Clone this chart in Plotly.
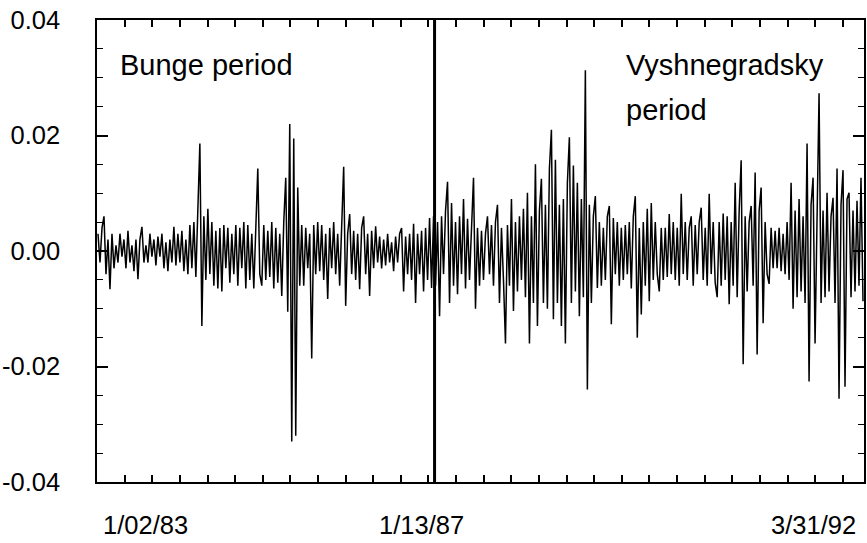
import plotly.graph_objects as go

# Daily returns, Bunge period (1/02/83 - 1/13/87)
bunge_returns = [
    0.003, -0.002, 0.004, 0.006, -0.004, 0.002, -0.0066, 0.003, -0.003, 0.001,
    -0.002, 0.003, -0.001, 0.002, -0.003, 0.0035, -0.002, 0.001, -0.0035, 0.002,
    -0.0049, 0.002, 0.0042, -0.002, 0.001, -0.002, 0.003, -0.001, 0.002, -0.0025,
    0.0025, -0.001, 0.003, -0.003, 0.0015, -0.0035, 0.002, -0.002, 0.0042, -0.0025,
    0.003, -0.002, 0.0035, -0.0035, 0.002, -0.004, 0.0045, -0.003, 0.005, -0.0045,
    0.0073, 0.0186, -0.013, 0.006, -0.005, 0.0073, -0.004, 0.005, -0.006, 0.0035,
    -0.0065, 0.004, -0.007, 0.0045, -0.003, 0.004, -0.0055, 0.003, -0.004, 0.0045,
    -0.006, 0.004, -0.003, 0.005, -0.0065, 0.0045, -0.005, 0.003, -0.0065, 0.005,
    0.0143, -0.004, -0.006, 0.0045, -0.005, 0.0035, -0.0045, 0.005, -0.0065, 0.004,
    -0.0055, 0.003, -0.0078, 0.005, 0.0127, -0.0105, 0.022, -0.033, 0.0195, -0.032,
    0.011, -0.006, 0.0045, -0.006, 0.004, -0.003, 0.003, -0.0186, 0.0045, -0.004,
    0.005, -0.0035, 0.0045, -0.005, 0.003, -0.0083, 0.004, -0.003, 0.005, -0.004,
    0.003, -0.006, 0.004, 0.0146, -0.0095, 0.003, 0.0064, -0.004, 0.0035, -0.005,
    0.003, -0.0066, 0.004, 0.006, -0.004, 0.003, -0.0078, 0.0035, -0.003, 0.0043,
    -0.002, 0.0025, -0.003, 0.002, -0.0025, 0.003, -0.002, 0.0015, -0.0035, 0.0025,
    -0.002, 0.003, 0.004, -0.007, 0.0025, -0.004, 0.003, -0.005, 0.0047, -0.009,
    0.003, -0.004, 0.0035, -0.007, 0.004, -0.005, 0.0057, -0.0064, 0.006,
]

# Daily returns, Vyshnegradsky period (1/13/87 - 3/31/92)
vysh_returns = [
    -0.006, 0.005, -0.0113, 0.006, -0.004, 0.007, 0.012, -0.009, 0.0083, -0.006,
    0.005, -0.0075, 0.006, -0.004, 0.009, -0.0065, 0.0056, -0.005, 0.004, 0.0127,
    -0.010, 0.004, -0.006, 0.0035, -0.005, 0.003, 0.006, -0.004, 0.0045, -0.006,
    0.005, 0.008, -0.009, 0.004, -0.005, -0.016, 0.0045, -0.006, 0.009, -0.0104,
    0.005, -0.007, 0.006, -0.005, 0.0073, -0.008, 0.0101, -0.016, 0.006, -0.009,
    0.015, -0.013, 0.007, 0.0125, -0.009, 0.008, -0.01, 0.0143, 0.021, -0.0118,
    0.0158, -0.009, 0.008, -0.013, 0.009, -0.016, 0.0118, 0.0197, -0.009, 0.0148,
    -0.007, 0.0118, -0.0113, 0.009, -0.008, 0.0313, -0.024, 0.008, -0.009, 0.006,
    0.0095, -0.0064, 0.005, -0.006, 0.004, -0.005, 0.006, 0.0078, -0.0127, 0.0057,
    -0.004, 0.005, -0.006, 0.004, -0.005, 0.0045, -0.004, 0.005, -0.0065, 0.006,
    0.0095, -0.015, 0.004, -0.011, 0.005, -0.006, 0.0073, -0.0087, 0.0083, -0.005,
    0.005, -0.004, -0.007, 0.004, -0.005, 0.004, -0.0045, 0.0064, -0.004, 0.005,
    -0.005, 0.004, -0.006, 0.0099, -0.004, 0.005, -0.005, 0.004, 0.006, -0.006,
    0.0045, -0.004, 0.005, 0.0075, -0.005, 0.004, -0.006, 0.0099, -0.004, 0.005,
    -0.0055, -0.008, 0.005, -0.006, 0.0065, -0.005, 0.006, -0.0092, 0.005, -0.006,
    0.0118, -0.008, 0.007, 0.0157, -0.0196, 0.006, -0.007, 0.005, 0.0078, -0.006,
    0.0136, -0.0179, 0.007, 0.011, -0.0125, 0.005, -0.004, -0.0057, 0.004, -0.003,
    0.0035, -0.003, 0.004, -0.0035, 0.003, -0.004, 0.005, -0.005, 0.0118, -0.010,
    0.007, -0.008, 0.009, -0.007, 0.006, -0.009, 0.0186, -0.0226, 0.008, 0.0127,
    -0.016, 0.008, 0.0273, -0.009, 0.007, -0.008, 0.0101, -0.007, 0.006, 0.0092,
    -0.009, 0.0143, -0.0256, 0.008, 0.014, -0.0235, 0.009, 0.0101, -0.008, 0.007,
    -0.007, 0.0087, -0.006, 0.0127, -0.0087,
]

date_labels = ["1/02/83", "1/13/87", "3/31/92"]
period_labels = ["Bunge period", "Vyshnegradsky", "period"]
y_tickvals = [0.04, 0.02, 0.0, -0.02, -0.04]
y_ticktext = ["0.04", "0.02", "0.00", "-0.02", "-0.04"]

returns = bunge_returns + vysh_returns
n = len(returns)
xs = list(range(n))
split = len(bunge_returns) - 0.5

W, H = 867, 543
L, R, T, B = 97, 866, 20, 482
FONT = "Liberation Sans, Arial, sans-serif"

def px_x(p):
    return (p - L) / (R - L)

def px_y(p):
    return (B - p) / (B - T)

fig = go.Figure()
fig.add_trace(go.Scatter(
    x=xs, y=returns, mode="lines",
    line=dict(color="black", width=1.5),
    showlegend=False, hoverinfo="skip",
))

fig.add_shape(type="line", xref="x", yref="paper",
              x0=split, x1=split, y0=0, y1=1,
              line=dict(color="black", width=3))

for lab, cx in zip(date_labels, [146, 422, 815]):
    fig.add_annotation(text=lab, xref="paper", yref="paper",
                       x=px_x(cx), y=px_y(525), xanchor="center", yanchor="middle",
                       showarrow=False, font=dict(family=FONT, size=25.5, color="black"))

fig.add_annotation(text=period_labels[0], xref="paper", yref="paper",
                   x=px_x(118), y=px_y(65), xanchor="left", yanchor="middle",
                   showarrow=False, font=dict(family=FONT, size=29, color="black"))
fig.add_annotation(text=period_labels[1], xref="paper", yref="paper",
                   x=px_x(625), y=px_y(65), xanchor="left", yanchor="middle",
                   showarrow=False, font=dict(family=FONT, size=29, color="black"))
fig.add_annotation(text=period_labels[2], xref="paper", yref="paper",
                   x=px_x(625), y=px_y(110), xanchor="left", yanchor="middle",
                   showarrow=False, font=dict(family=FONT, size=29, color="black"))

fig.update_layout(
    width=W, height=H,
    margin=dict(l=L, r=W - R, t=T, b=H - B),
    plot_bgcolor="white", paper_bgcolor="white",
    font=dict(family=FONT, color="black"),
    xaxis=dict(
        range=[-0.5, n - 0.5], showgrid=False, zeroline=False,
        showline=True, linecolor="black", linewidth=1.5, mirror="allticks",
        ticks="inside", ticklen=7, tickwidth=1.5, tickcolor="black",
        tickmode="linear", tick0=-0.5, dtick=13.83, showticklabels=False,
    ),
    yaxis=dict(
        range=[-0.04, 0.04], showgrid=False, zeroline=False,
        showline=True, linecolor="black", linewidth=1.5, mirror="allticks",
        ticks="inside", ticklen=11, tickwidth=1.6, tickcolor="black",
        tickmode="array", tickvals=y_tickvals, ticktext=y_ticktext,
        tickfont=dict(family=FONT, size=25.5, color="black"),
        ticklabelstandoff=30,
        minor=dict(ticks="inside", ticklen=6, tickwidth=1.3, tickcolor="black",
                   tickmode="linear", dtick=0.005, tick0=0, showgrid=False),
    ),
)
fig.write_html("out.html")
